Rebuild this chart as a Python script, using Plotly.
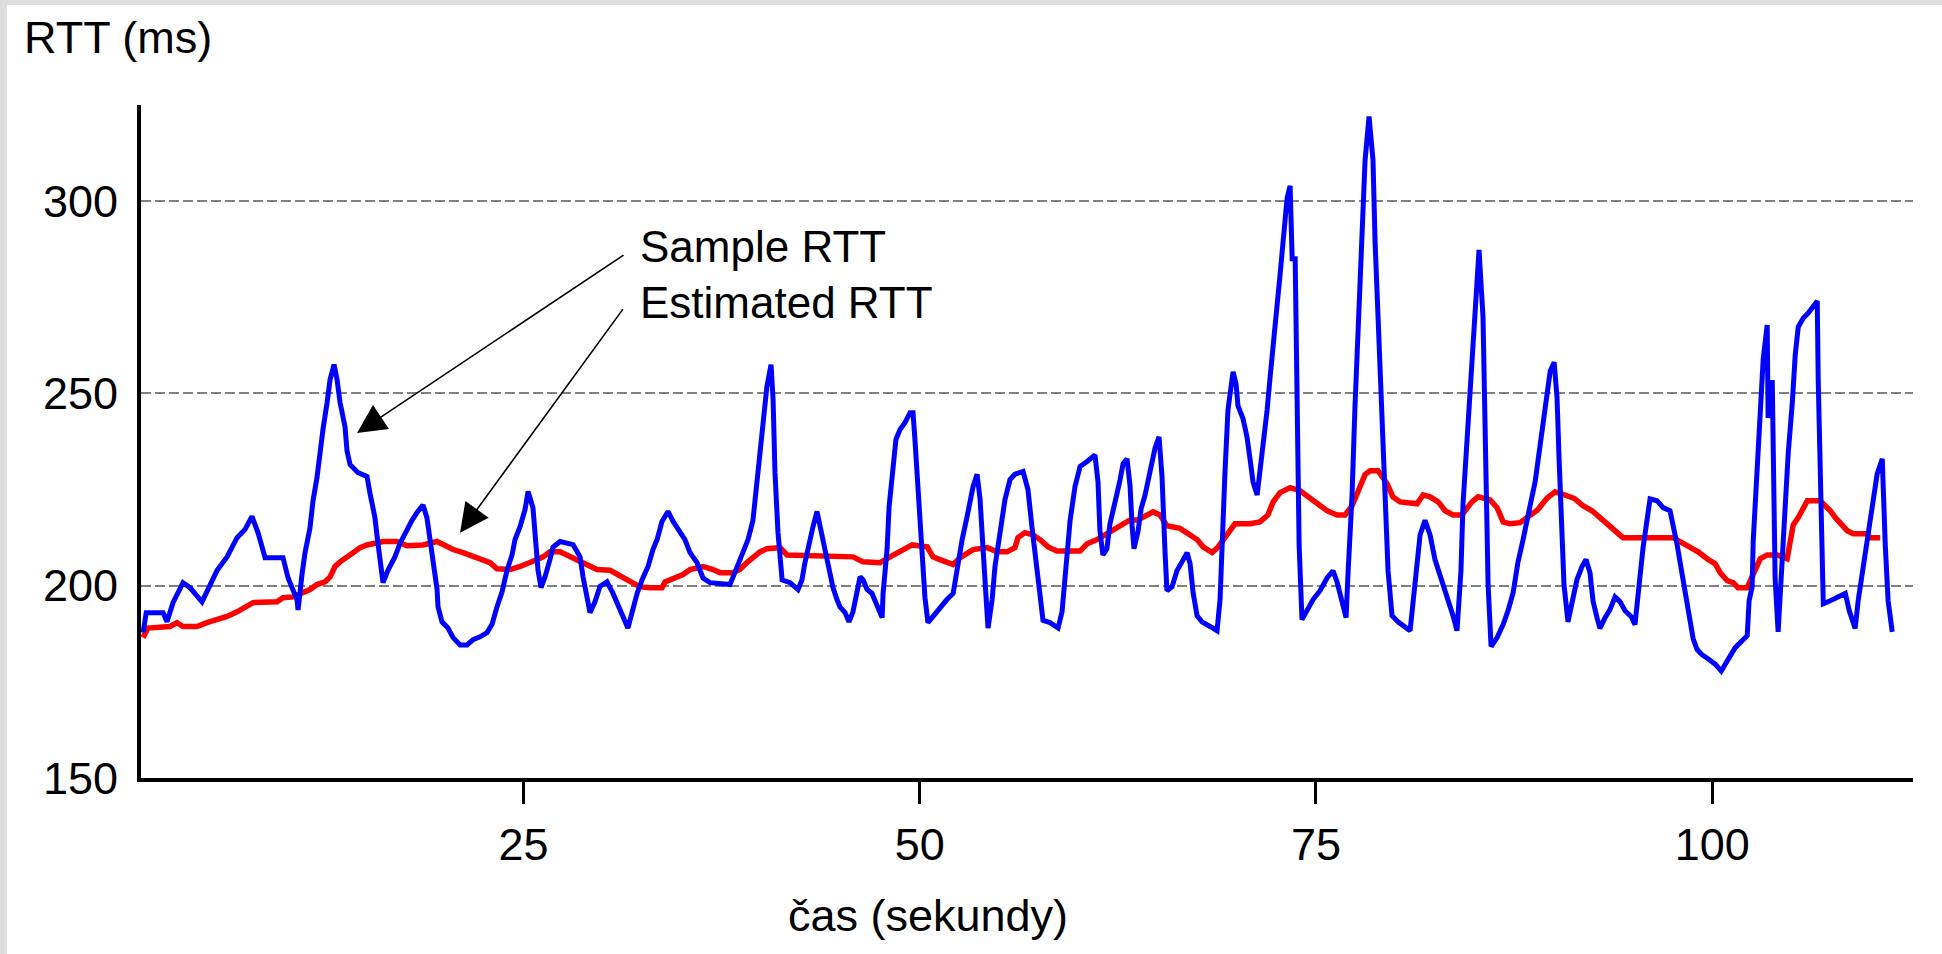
import plotly.graph_objects as go

# ---------------- data ----------------
sample_time = [
    1.0, 1.2, 1.44, 2.26, 2.51, 2.89, 3.52, 3.96, 4.72, 5.22,
    5.67, 6.30, 6.93, 7.43, 7.87, 8.25, 8.70, 9.83, 10.15, 10.71,
    10.78, 11.03, 11.22, 11.53, 11.72, 11.97, 12.16, 12.35, 12.61, 12.80,
    13.05, 13.24, 13.43, 13.74, 13.87, 14.06, 14.56, 15.13, 15.32, 15.63,
    15.82, 16.14, 16.45, 16.89, 17.21, 17.65, 17.97, 18.28, 18.66, 18.91,
    19.10, 19.29, 19.55, 19.61, 19.86, 20.24, 20.56, 21.00, 21.44, 21.82,
    22.26, 22.70, 23.02, 23.33, 23.65, 23.96, 24.28, 24.47, 24.79, 25.10,
    25.29, 25.60, 25.79, 25.92, 26.11, 26.36, 26.67, 26.86, 27.31, 28.13,
    28.57, 28.76, 29.20, 29.51, 29.83, 30.27, 30.65, 31.09, 31.59, 31.85,
    32.17, 32.48, 32.86, 33.17, 33.43, 33.74, 34.12, 34.44, 34.88, 35.19,
    35.51, 35.95, 36.33, 36.77, 38.03, 38.47, 38.85, 39.17, 39.48, 39.74,
    39.92, 40.11, 40.36, 40.62, 40.75, 40.87, 41.06, 41.32, 41.82, 42.32,
    42.57, 42.76, 43.08, 43.27, 43.52, 43.71, 43.90, 44.15, 44.34, 44.53,
    44.78, 44.97, 45.29, 45.54, 45.79, 46.05, 46.24, 46.43, 46.68, 46.99,
    47.31, 47.63, 47.69, 47.94, 48.07, 48.32, 48.50, 48.76, 49.07, 49.39,
    49.58, 49.70, 49.89, 50.14, 50.33, 50.52, 50.84, 51.28, 51.72, 52.11,
    52.36, 52.68, 52.99, 53.18, 53.37, 53.62, 53.81, 54.00, 54.13, 54.31,
    54.57, 54.75, 55.07, 55.38, 55.70, 56.01, 56.52, 56.83, 57.08, 57.40,
    57.59, 57.78, 58.22, 58.73, 58.98, 59.17, 59.49, 59.80, 60.12, 60.56,
    60.87, 61.06, 61.25, 61.37, 61.56, 61.81, 62.00, 62.19, 62.45, 62.64,
    62.83, 63.08, 63.27, 63.40, 63.52, 63.78, 63.97, 64.22, 64.41, 64.66,
    64.85, 65.10, 65.29, 65.48, 65.60, 65.92, 66.23, 66.55, 66.87, 67.06,
    67.25, 67.50, 67.81, 68.32, 68.76, 68.95, 69.07, 69.26, 69.45, 69.77,
    69.96, 70.08, 70.40, 70.65, 70.84, 71.03, 71.29, 71.47, 71.66, 71.92,
    72.11, 72.30, 72.55, 72.74, 72.93, 73.18, 73.37, 73.50, 73.69, 73.81,
    73.94, 74.12, 74.44, 74.82, 75.26, 75.70, 76.08, 76.33, 76.65, 76.90,
    77.02, 77.28, 77.46, 77.65, 77.91, 78.10, 78.35, 78.60, 78.73, 78.92,
    79.17, 79.36, 79.55, 79.80, 80.18, 80.94, 81.25, 81.57, 81.88, 82.20,
    82.51, 82.83, 83.27, 83.65, 83.90, 84.15, 84.28, 84.53, 84.78, 85.04,
    85.29, 85.54, 85.67, 85.86, 86.05, 86.43, 86.81, 87.12, 87.44, 87.75,
    88.07, 88.33, 88.52, 88.83, 89.15, 89.34, 89.59, 89.78, 90.03, 90.21,
    90.34, 90.53, 90.65, 90.90, 91.15, 91.47, 91.78, 92.04, 92.29, 92.48,
    92.73, 92.92, 93.24, 93.55, 93.87, 94.19, 94.50, 94.88, 95.13, 95.26,
    95.45, 95.64, 95.89, 96.08, 96.52, 96.90, 97.34, 97.53, 97.79, 97.97,
    98.16, 98.42, 98.61, 98.80, 99.05, 99.37, 99.74, 100.19, 100.57, 100.82,
    101.13, 101.45, 101.77, 102.21, 102.33, 102.52, 102.59, 102.78, 103.03, 103.22,
    103.47, 103.53, 103.79, 103.85, 103.97, 104.16, 104.42, 104.61, 104.80, 105.05,
    105.24, 105.43, 105.75, 106.06, 106.38, 106.63, 106.69, 106.88, 107.01, 107.45,
    107.89, 108.40, 108.65, 109.02, 109.21, 109.47, 109.78, 109.97, 110.16, 110.41,
    110.73, 110.79, 110.92, 111.10, 111.36,
]
sample_rtt = [
    187.8, 193, 193, 193, 190.6, 195.6, 200.8, 199.5, 195.8, 199.8,
    204, 207.5, 212.5, 214.6, 218, 213.8, 207.3, 207.3, 202, 196.4,
    193.7, 203, 208.6, 215, 222, 228, 235.4, 240.6, 247.6, 253.6,
    257.5, 253.6, 247.6, 241.4, 235, 231.5, 229.4, 228.4, 224, 217.7,
    211, 200.8, 204, 207.5, 211, 214.6, 217, 219, 221, 217.7,
    212, 206, 199, 194.5, 190.6, 189, 186.5, 184.6, 184.6, 186,
    186.7, 187.8, 190, 194.5, 198.4, 204, 208, 212, 215.4, 219.8,
    224.5, 220.3, 212, 204, 199.5, 202.3, 206.8, 210, 211.5, 210.7,
    207.5, 202.3, 193, 195.8, 199.8, 201, 198, 193.7, 189, 193,
    198, 201.5, 205, 209.4, 212, 216.7, 219.3, 216.7, 213.8, 212,
    208.6, 206, 202, 200.8, 200.3, 205, 209.4, 212, 217, 226.8,
    235.4, 243.7, 251.8, 257.5, 248.4, 229.4, 213.8, 201.5, 200.8, 199,
    201.5, 206, 212.8, 215.4, 219.3, 215.4, 212, 208, 203.6, 199.5,
    196.4, 194.5, 193, 190.6, 193.2, 199, 202.3, 201.5, 199, 198,
    194.5, 191.7, 198, 209.4, 220.6, 231.5, 238, 240.6, 242.4, 245,
    245, 238, 224, 211, 197, 190.4, 192, 194.5, 196.4, 198,
    205, 212, 218, 221.6, 225.8, 229, 222.4, 209.4, 198, 189,
    196.4, 205, 213.8, 222.4, 227.6, 229, 229.7, 225, 215.4, 205,
    196.4, 191, 190.4, 189, 193.2, 201.5, 217, 225.8, 231, 232.3,
    233.6, 234, 227, 214.3, 208, 209.6, 216, 220, 224, 227.5,
    231.7, 233, 226, 215.6, 209.6, 214.3, 220, 223.6, 227.5, 231.7,
    235.8, 238.7, 228.3, 208.6, 198.7, 199.7, 203.9, 206.2, 208.6, 205.7,
    198.2, 192.2, 190.6, 189.4, 188.3, 196.4, 212, 229.4, 245.7, 255.6,
    252.5, 246.8, 243.4, 238.7, 233, 227, 223.6, 229.4, 236.9, 245.7,
    254.3, 263.6, 273, 281, 290.4, 300.8, 304, 285, 285, 248,
    210.4, 191.2, 193.5, 196.4, 198.7, 202, 203.9, 201, 195.8, 191.7,
    202.9, 223.6, 246.2, 267.8, 288.6, 310.6, 322, 310.6, 289.6, 268.3,
    246.2, 224.7, 203.9, 192.2, 190.6, 188.3, 199.2, 213.2, 217, 213.2,
    206.8, 202.9, 196.9, 192.2, 188.3, 203.9, 221.3, 238.7, 254.8, 271.2,
    287.3, 269.9, 236.4, 200.5, 184.2, 186.5, 189.9, 193.5, 198.2, 206.2,
    212, 217.9, 221, 227, 236, 243, 250, 255.8, 258.1, 249,
    233, 216.6, 200.3, 190.6, 195.3, 201.6, 204.9, 206.8, 203.4, 196.1,
    191.7, 188.9, 191.7, 193.8, 197.1, 195.8, 193.5, 192, 189.9, 194.3,
    202.6, 209.9, 217.9, 222.6, 222.1, 220.3, 219.5, 216.1, 210.6, 206.2,
    201.6, 196.1, 191.7, 186.2, 183.4, 182, 181, 179.6, 177.8, 179.6,
    181.6, 183.9, 185.2, 187, 196.1, 199.7, 211.7, 227.3, 243.6, 259,
    267.8, 243.6, 253.5, 228, 202, 188, 208, 221.6, 234.6, 247.3,
    260, 267.3, 269.6, 270.9, 272.7, 274, 253.5, 214.3, 195.3, 196.1,
    197.1, 198, 193.5, 188.9, 196.1, 203.4, 210.6, 217.9, 222.6, 229.1,
    233, 225.2, 210.6, 196.1, 188,
]

estimated_time = [
    1.0, 1.31, 2.70, 3.14, 3.52, 4.40, 5.03, 5.67, 6.30, 6.93,
    7.43, 7.94, 9.45, 9.83, 10.46, 11.09, 11.53, 11.97, 12.48, 12.80,
    13.11, 13.43, 13.87, 14.25, 14.69, 15.13, 16.14, 17.02, 17.65, 18.66,
    19.55, 20.18, 20.56, 21.19, 21.82, 22.26, 22.89, 23.33, 24.16, 24.79,
    25.29, 25.86, 26.24, 26.67, 27.31, 27.75, 28.38, 29.01, 29.64, 30.46,
    31.09, 31.72, 32.35, 32.98, 33.74, 33.93, 34.44, 35.07, 35.51, 36.33,
    36.96, 37.40, 38.22, 38.66, 39.10, 39.48, 39.92, 40.36, 41.19, 41.63,
    42.89, 44.53, 45.79, 46.43, 47.50, 48.13, 48.76, 49.21, 49.52, 50.47,
    50.84, 51.28, 51.72, 52.11, 52.55, 52.99, 53.37, 54.26, 54.88, 55.51,
    56.01, 56.20, 56.64, 57.15, 57.59, 58.10, 58.66, 60.12, 60.56, 61.19,
    61.69, 62.19, 62.76, 63.27, 63.78, 64.34, 64.72, 65.16, 65.60, 66.42,
    66.87, 67.50, 67.88, 68.45, 68.83, 69.39, 69.89, 70.84, 71.47, 71.97,
    72.30, 72.74, 73.37, 74.00, 74.51, 75.07, 75.70, 76.33, 76.84, 77.28,
    77.65, 78.10, 78.42, 78.92, 79.49, 79.86, 80.31, 81.38, 81.76, 82.20,
    82.71, 83.15, 83.65, 84.21, 84.84, 85.23, 85.99, 86.43, 86.81, 87.24,
    87.87, 88.33, 88.96, 89.59, 90.09, 90.84, 91.34, 91.85, 92.42, 92.92,
    93.36, 93.87, 94.37, 97.53, 98.10, 98.61, 99.11, 99.68, 100.19, 100.50,
    100.95, 101.32, 101.63, 102.21, 102.40, 102.84, 103.03, 103.47, 104.10, 104.73,
    104.92, 105.11, 105.43, 105.75, 106.00, 106.82, 107.14, 107.45, 107.77, 108.08,
    108.52, 108.90, 109.78, 109.97, 110.60,
]
estimated_rtt = [
    186.5, 189, 189.4, 190.4, 189.4, 189.4, 190.4, 191.2, 192, 193.2,
    194.5, 195.6, 195.8, 196.9, 197.1, 198.2, 199, 200.3, 201, 202.3,
    205, 206.2, 207.3, 208.6, 209.9, 210.6, 211.5, 211.5, 210.4, 210.6,
    211.5, 210.1, 209.4, 208.6, 207.5, 207, 206, 204.4, 204.2, 205,
    206, 206.8, 207.5, 208.8, 208.8, 208, 206.8, 205.5, 204.2, 204,
    202.5, 201, 199.7, 199.5, 199.5, 201, 202, 202.9, 204.2, 205,
    204.2, 203.4, 203.4, 204.2, 206, 207.5, 208.8, 209.6, 209.9, 208,
    207.8, 207.8, 207.5, 206.2, 206, 207.5, 208.8, 209.9, 210.6, 210.1,
    207.5, 206.8, 206, 205.5, 207.3, 208.6, 209.4, 209.9, 208.8, 208.8,
    209.9, 212.5, 213.8, 213.2, 212, 210.1, 209, 209, 210.9, 212,
    213.2, 214.3, 215.6, 217.1, 217.1, 218.4, 219.2, 218.4, 215.6, 214.9,
    213.8, 212, 210.1, 208.6, 210.1, 213.2, 216.1, 216.1, 216.6, 218.4,
    221.8, 224.2, 225.5, 224.7, 223.1, 221.3, 219.5, 218.4, 218.4, 220.8,
    224.7, 228.9, 229.9, 229.9, 226.5, 223.1, 221.8, 221.3, 223.6, 223.1,
    221.8, 219.5, 218.4, 218.4, 221.8, 223.1, 222.3, 220.3, 216.6, 216.1,
    216.4, 217.9, 219.6, 222.8, 224.4, 223.4, 222.6, 220.8, 219.5, 217.7,
    216.1, 214.3, 212.5, 212.5, 211.2, 209.9, 208.8, 207, 205.7, 203.4,
    201.3, 200.8, 199.5, 199.5, 201.3, 205, 207, 208, 208, 207,
    211.7, 215.8, 217.7, 220.3, 222.1, 222.1, 220.8, 219.5, 217.7, 216.1,
    214.3, 213.5, 213.5, 212.5, 212.5,
]

x_ticks = [25, 50, 75, 100]
y_ticks = [150, 200, 250, 300]
x_range = [0.87, 112.67]
y_range = [150, 325]

y_label = "RTT (ms)"
x_label = "čas (sekundy)"
sample_label = "Sample RTT"
estimated_label = "Estimated RTT"

# ---------------- layout geometry ----------------
W, H = 1942, 954
L, R, T, B = 141, 29, 105, 176
PW, PH = W - L - R, H - T - B
FONT = "Liberation Sans, Arial, sans-serif"


def px_x(px):
    return (px - L) / PW


def px_y(py):
    return (H - B - py) / PH


fig = go.Figure()
fig.add_trace(go.Scatter(x=estimated_time, y=estimated_rtt, mode="lines",
                         line=dict(color="#ff0000", width=5.5), name=estimated_label,
                         hoverinfo="skip"))
fig.add_trace(go.Scatter(x=sample_time, y=sample_rtt, mode="lines",
                         line=dict(color="#0000ff", width=5), name=sample_label,
                         hoverinfo="skip"))

annotations = [
    dict(text=y_label, xref="paper", yref="paper", x=px_x(22), y=px_y(38),
         xanchor="left", yanchor="middle", showarrow=False,
         font=dict(family=FONT, size=45, color="#000000")),
    dict(text=x_label, xref="x", yref="paper", x=50.5, y=px_y(915),
         xanchor="center", yanchor="middle", showarrow=False,
         font=dict(family=FONT, size=45, color="#000000")),
    dict(text=sample_label, xref="paper", yref="paper", x=px_x(638), y=px_y(246),
         xanchor="left", yanchor="middle", showarrow=False,
         font=dict(family=FONT, size=44, color="#000000")),
    dict(text=estimated_label, xref="paper", yref="paper", x=px_x(638), y=px_y(302),
         xanchor="left", yanchor="middle", showarrow=False,
         font=dict(family=FONT, size=44, color="#000000")),
    # arrows
    dict(text="", x=14.5, y=239.7, xref="x", yref="y", ax=268, ay=-179,
         showarrow=True, arrowhead=2, arrowsize=3.6, arrowwidth=1.6, arrowcolor="#000000"),
    dict(text="", x=21.0, y=213.8, xref="x", yref="y", ax=164, ay=-225,
         showarrow=True, arrowhead=2, arrowsize=3.6, arrowwidth=1.6, arrowcolor="#000000"),
]

shapes = [
    dict(type="rect", xref="paper", yref="paper", x0=px_x(0), x1=px_x(7),
         y0=px_y(H), y1=px_y(0), fillcolor="#dedede", line=dict(width=0), layer="below"),
    dict(type="rect", xref="paper", yref="paper", x0=px_x(0), x1=px_x(W),
         y0=px_y(5), y1=px_y(0), fillcolor="#dedede", line=dict(width=0), layer="below"),
]

fig.update_layout(
    width=W, height=H, autosize=False,
    margin=dict(l=L, r=R, t=T, b=B, pad=0),
    paper_bgcolor="#ffffff", plot_bgcolor="#ffffff",
    showlegend=False,
    font=dict(family=FONT, size=45, color="#000000"),
    annotations=annotations,
    shapes=shapes,
    xaxis=dict(range=x_range, tickvals=x_ticks, ticks="outside", ticklen=22,
               tickwidth=3, tickcolor="#000000", showline=True, linewidth=4,
               linecolor="#000000", showgrid=False, zeroline=False,
               tickfont=dict(family=FONT, size=45, color="#000000"),
               ticklabelstandoff=2),
    yaxis=dict(range=y_range, tickvals=y_ticks, ticks="", showline=True,
               linewidth=4, linecolor="#000000", showgrid=True,
               gridcolor="#808080", gridwidth=2, griddash="10px,4px",
               zeroline=False, tickfont=dict(family=FONT, size=45, color="#000000"),
               ticklabelstandoff=10),
)

fig.write_html(
    "out.html",
    config={"displayModeBar": False},
    post_script="document.body.style.margin='0';document.body.style.overflow='hidden';",
)
